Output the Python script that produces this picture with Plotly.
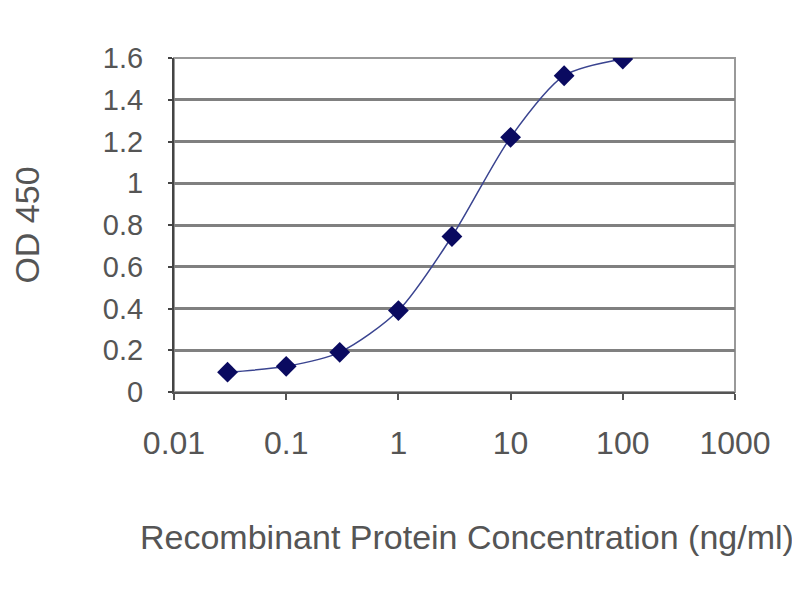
import plotly.graph_objects as go

concentration = [0.03, 0.1, 0.3, 1, 3, 10, 30, 100]
od450 = [0.095, 0.123, 0.19, 0.39, 0.745, 1.22, 1.515, 1.595]

x_ticks = [0.01, 0.1, 1, 10, 100, 1000]
x_tick_labels = ["0.01", "0.1", "1", "10", "100", "1000"]
y_ticks = [0, 0.2, 0.4, 0.6, 0.8, 1, 1.2, 1.4, 1.6]
y_tick_labels = ["0", "0.2", "0.4", "0.6", "0.8", "1", "1.2", "1.4", "1.6"]
x_title = "Recombinant Protein Concentration (ng/ml)"
y_title = "OD 450"

fig = go.Figure()
fig.add_trace(go.Scatter(
    x=concentration, y=od450, mode="lines+markers",
    line=dict(color="#3a4490", width=1.5, shape="spline", smoothing=0.8),
    marker=dict(symbol="diamond", size=16, color="#0a0a60"),
    showlegend=False,
))

font = "Liberation Sans, Arial, sans-serif"
fig.update_layout(
    width=800, height=600,
    margin=dict(l=166, r=73, t=50, b=216),
    paper_bgcolor="white", plot_bgcolor="white",
    font=dict(family=font, size=28, color="#555555"),
    xaxis=dict(
        type="log", range=[-2, 3], automargin=False,
        tickvals=x_ticks, ticktext=x_tick_labels,
        showgrid=False, zeroline=False,
        showline=True, linecolor="#555555", linewidth=2, mirror=False,
        ticks="outside", ticklen=6, tickcolor="#555555", tickwidth=2,
        ticklabelstandoff=16,
        tickfont=dict(size=32, color="#555555"),
    ),
    yaxis=dict(
        range=[0, 1.6], automargin=False,
        tickvals=y_ticks, ticktext=y_tick_labels,
        showgrid=True, gridcolor="#808080", gridwidth=3,
        zeroline=False,
        showline=True, linecolor="#444444", linewidth=2,
        ticks="outside", ticklen=4, tickcolor="#444444", tickwidth=2,
        ticklabelstandoff=19,
        title=dict(text=y_title, font=dict(size=34, color="#555555"), standoff=65),
        tickfont=dict(size=29, color="#555555"),
    ),
)
fig.add_annotation(text=x_title, xref="paper", yref="paper", x=0.522, y=-0.435,
                   xanchor="center", yanchor="middle", showarrow=False,
                   font=dict(size=34, color="#555555", family=font))
fig.add_shape(type="rect", xref="paper", yref="paper", x0=0, y0=0, x1=1, y1=1,
              line=dict(color="#999999", width=2), layer="below")
fig.write_html("out.html")
